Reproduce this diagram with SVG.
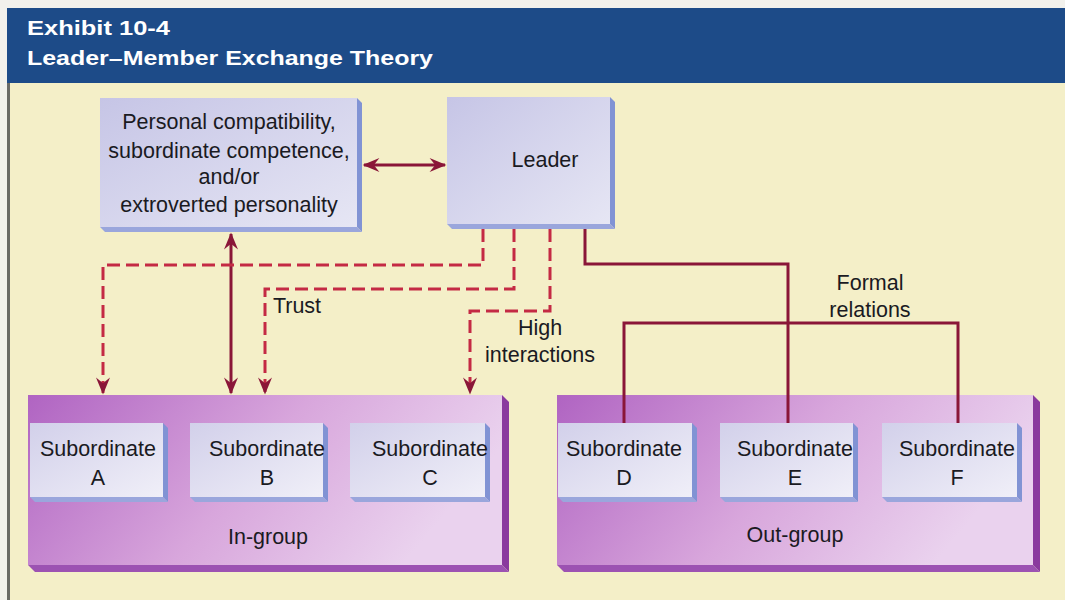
<svg xmlns="http://www.w3.org/2000/svg" width="1065" height="600" viewBox="0 0 1065 600">
<defs>
<linearGradient id="gBox" x1="0" y1="0" x2="1" y2="1">
<stop offset="0" stop-color="#c6c5e6"/>
<stop offset="1" stop-color="#e6e6f4"/>
</linearGradient>
<linearGradient id="gSub" x1="0" y1="0" x2="1" y2="1">
<stop offset="0" stop-color="#d2d0ea"/>
<stop offset="1" stop-color="#f0eff8"/>
</linearGradient>
<linearGradient id="gPanel" x1="0" y1="0" x2="1" y2="0.3">
<stop offset="0" stop-color="#b064c2"/>
<stop offset="0.55" stop-color="#d8a6dc"/>
<stop offset="1" stop-color="#ead2ee"/>
</linearGradient>
<marker id="ahb" viewBox="0 0 12 10" refX="11" refY="5" markerWidth="18" markerHeight="14" markerUnits="userSpaceOnUse" orient="auto-start-reverse">
<path d="M0,0 L12,5 L0,10 L4,5 z" fill="#8a1638"/>
</marker>
</defs>
<style>
.t{font-family:"Liberation Sans","DejaVu Sans",sans-serif;fill:#1a1a22;text-anchor:middle;font-size:21.5px}
.h{font-family:"Liberation Sans","DejaVu Sans",sans-serif;fill:#ffffff;font-weight:bold;font-size:21px}
.dash{fill:none;stroke:#c42a44;stroke-width:3;stroke-dasharray:13,6}
.sol{fill:none;stroke:#8a1638;stroke-width:3}
.face{fill:url(#gBox)}
.sface{fill:url(#gSub)}
.edgeR{fill:#8193d4}
.edgeB{fill:#9aa6dc}
.pface{fill:url(#gPanel)}
.pedgeR{fill:#8a3a9e}
.pedgeB{fill:#9c52b2}
</style>
<rect x="0" y="0" width="1065" height="600" fill="#f4efc8"/>
<rect x="0" y="0" width="1065" height="8" fill="#f2f1ec"/>
<rect x="0" y="8" width="7" height="592" fill="#f2f1ec"/>
<rect x="7" y="83" width="3" height="517" fill="#6a6a66"/>
<g id="header">
<rect x="7" y="8" width="1058" height="75" fill="#1d4b88"/>
<text class="h" x="27" y="35" textLength="143" lengthAdjust="spacingAndGlyphs">Exhibit 10-4</text>
<text class="h" x="27" y="65" textLength="406" lengthAdjust="spacingAndGlyphs">Leader–Member Exchange Theory</text>
</g>

<g id="factors">
<rect class="face" x="100" y="98" width="257" height="129"/>
<polygon class="edgeR" points="357,98 362,103 362,232 357,227"/>
<polygon class="edgeB" points="100,227 357,227 362,232 105,232"/>
<text class="t" x="229" y="129">Personal compatibility,</text>
<text class="t" x="229" y="158">subordinate competence,</text>
<text class="t" x="229" y="184">and/or</text>
<text class="t" x="229" y="212">extroverted personality</text>
</g>

<g id="leader">
<rect class="face" x="447" y="97" width="163" height="127"/>
<polygon class="edgeR" points="610,97 615,102 615,229 610,224"/>
<polygon class="edgeB" points="447,224 610,224 615,229 452,229"/>
<text class="t" x="545" y="167">Leader</text>
</g>

<g id="ingroup">
<rect class="pface" x="28" y="395" width="474" height="170"/>
<polygon class="pedgeR" points="502,395 509,402 509,572 502,565"/>
<polygon class="pedgeB" points="28,565 502,565 509,572 35,572"/>
<text class="t" x="268" y="544">In-group</text>
</g>
<g id="subA">
<rect class="sface" x="30" y="423" width="133" height="74"/>
<polygon class="edgeR" points="163,423 168,428 168,502 163,497"/>
<polygon class="edgeB" points="30,497 163,497 168,502 35,502"/>
<text class="t" x="98" y="456">Subordinate</text>
<text class="t" x="98" y="485">A</text>
</g>
<g id="subB">
<rect class="sface" x="190" y="423" width="133" height="74"/>
<polygon class="edgeR" points="323,423 328,428 328,502 323,497"/>
<polygon class="edgeB" points="190,497 323,497 328,502 195,502"/>
<text class="t" x="267" y="456">Subordinate</text>
<text class="t" x="267" y="485">B</text>
</g>
<g id="subC">
<rect class="sface" x="350" y="423" width="135" height="74"/>
<polygon class="edgeR" points="485,423 490,428 490,502 485,497"/>
<polygon class="edgeB" points="350,497 485,497 490,502 355,502"/>
<text class="t" x="430" y="456">Subordinate</text>
<text class="t" x="430" y="485">C</text>
</g>

<g id="outgroup">
<rect class="pface" x="557" y="395" width="476" height="170"/>
<polygon class="pedgeR" points="1033,395 1040,402 1040,572 1033,565"/>
<polygon class="pedgeB" points="557,565 1033,565 1040,572 564,572"/>
<text class="t" x="795" y="542">Out-group</text>
</g>
<g id="subD">
<rect class="sface" x="558" y="423" width="134" height="74"/>
<polygon class="edgeR" points="692,423 697,428 697,502 692,497"/>
<polygon class="edgeB" points="558,497 692,497 697,502 563,502"/>
<text class="t" x="624" y="456">Subordinate</text>
<text class="t" x="624" y="485">D</text>
</g>
<g id="subE">
<rect class="sface" x="720" y="423" width="133" height="74"/>
<polygon class="edgeR" points="853,423 858,428 858,502 853,497"/>
<polygon class="edgeB" points="720,497 853,497 858,502 725,502"/>
<text class="t" x="795" y="456">Subordinate</text>
<text class="t" x="795" y="485">E</text>
</g>
<g id="subF">
<rect class="sface" x="882" y="423" width="135" height="74"/>
<polygon class="edgeR" points="1017,423 1022,428 1022,502 1017,497"/>
<polygon class="edgeB" points="882,497 1017,497 1022,502 887,502"/>
<text class="t" x="957" y="456">Subordinate</text>
<text class="t" x="957" y="485">F</text>
</g>

<g id="connectors">
<line class="sol" x1="364" y1="165" x2="445" y2="165" marker-start="url(#ahb)" marker-end="url(#ahb)"/>
<line class="sol" x1="231" y1="234" x2="231" y2="393" marker-start="url(#ahb)" marker-end="url(#ahb)"/>
<path class="dash" d="M483,229 V265 H103 V393" marker-end="url(#ahb)"/>
<path class="dash" d="M514,229 V289 H265 V393" marker-end="url(#ahb)"/>
<path class="dash" d="M550,229 V311 H470 V393" marker-end="url(#ahb)"/>
<path class="sol" d="M585,229 V264 H788 V423"/>
<path class="sol" d="M624,423 V323 H958 V423"/>
<text class="t" x="297" y="313">Trust</text>
<text class="t" x="540" y="335">High</text>
<text class="t" x="540" y="362">interactions</text>
<text class="t" x="870" y="290">Formal</text>
<text class="t" x="870" y="317">relations</text>
</g>
</svg>
